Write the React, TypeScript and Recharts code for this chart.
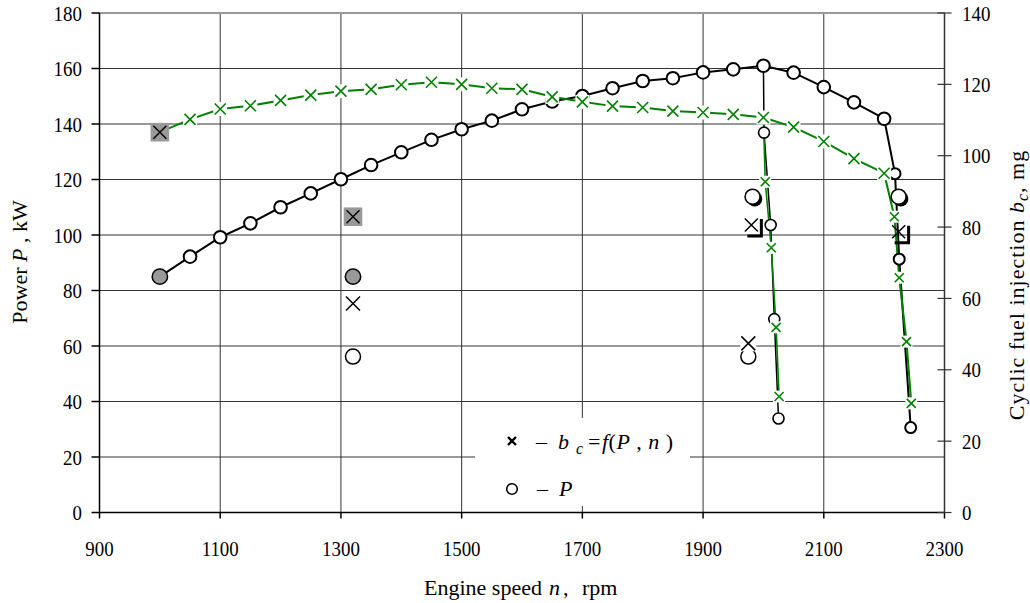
import React from 'react'
import {
  ComposedChart,
  Line,
  Scatter,
  XAxis,
  YAxis,
  CartesianGrid,
  ReferenceLine,
} from 'recharts'

const rpmTicks = [900, 1100, 1300, 1500, 1700, 1900, 2100, 2300]
const powerTicks = [0, 20, 40, 60, 80, 100, 120, 140, 160, 180]
const fuelTicks = [0, 20, 40, 60, 80, 100, 120, 140]

// full-load power curve, kW (left axis)
const powerRpm = [
  1000, 1050, 1100, 1150, 1200, 1250, 1300, 1350, 1400, 1450, 1500, 1550, 1600, 1650,
  1700, 1750, 1800, 1850, 1900, 1950, 2000, 2050, 2100, 2150, 2200, 2218, 2225, 2244,
]
const powerKw = [
  85, 92.2, 99.2, 104.2, 110, 115, 120.1, 125.2, 129.8, 134.3, 138.1, 141.2, 145.3, 148.1,
  150.1, 152.9, 155.5, 156.5, 158.6, 159.7, 161, 158.5, 153.3, 147.8, 141.9, 122.1, 91.3, 30.6,
]

// governor branch starting at 2000 rpm
const powerGovRpm = [2000, 2001, 2012, 2018, 2025]
const powerGovKw = [161, 136.9, 103.6, 69.7, 33.9]

// cyclic fuel injection, mg (right axis)
const fuelRpm = [
  1000, 1050, 1100, 1150, 1200, 1250, 1300, 1350, 1400, 1450, 1500, 1550, 1600, 1650,
  1700, 1750, 1800, 1850, 1900, 1950, 2000, 2050, 2100, 2150, 2200, 2217, 2225, 2237, 2245,
]
const fuelMg = [
  106.6, 110.2, 113.1, 114.0, 115.5, 117.0, 118.1, 118.6, 119.9, 120.6, 120.0, 118.9, 118.6,
  116.5, 115.1, 113.9, 113.5, 112.5, 112.1, 111.6, 110.7, 108.0, 104.0, 99.2, 95.1, 82.9,
  65.8, 47.9, 30.6,
]

const fuelGovRpm = [2000, 2003, 2013, 2021, 2026]
const fuelGovMg = [110.7, 92.7, 74.2, 51.9, 32.5]

// single measured points
const greyPowerRpm = [1320]
const greyPowerKw = [85]
const greyFuelRpm = [1320]
const greyFuelMg = [82.9]
const crossRpm = [1320, 1975]
const crossMg = [58.6, 47.4]
const ringRpm = [1320, 1975]
const ringKw = [56.2, 56.2]
const boldRpm = [1982, 2224]
const boldKw = [113.8, 113.8]
const boxedRpm = [1980, 2224]
const boxedMg = [80.6, 78.7]

const zip = (xs: number[], ys: number[]) => xs.map((n, i) => ({ n, v: ys[i] }))

const FONT = '"Liberation Serif", "Times New Roman", serif'
const GREEN = '#008000'
const GREY = '#999'

function OpenCircle({ cx, cy, r = 6.3, w = 2, fill = '#fff' }: any) {
  return <circle cx={cx} cy={cy} r={r} fill={fill} stroke="#000" strokeWidth={w} />
}

function GreenCross({ cx, cy, a = 5.5, halo = 7, w = 1.6 }: any) {
  return (
    <g>
      <rect x={cx - halo} y={cy - halo} width={halo * 2} height={halo * 2} fill="#fff" />
      <path
        d={`M${cx - a},${cy - a}L${cx + a},${cy + a}M${cx - a},${cy + a}L${cx + a},${cy - a}`}
        stroke={GREEN}
        strokeWidth={w}
      />
    </g>
  )
}

function BlackCross({ cx, cy, a = 7, w = 1.5, halo = 0 }: any) {
  return (
    <g>
      {halo > 0 && (
        <rect x={cx - halo} y={cy - halo} width={halo * 2} height={halo * 2} fill="#fff" />
      )}
      <path
        d={`M${cx - a},${cy - a}L${cx + a},${cy + a}M${cx - a},${cy + a}L${cx + a},${cy - a}`}
        stroke="#000"
        strokeWidth={w}
      />
    </g>
  )
}

function GreySquare({ cx, cy }: any) {
  return (
    <g>
      <rect x={cx - 9.3} y={cy - 9.3} width={18.6} height={18.6} fill={GREY} />
      <BlackCross cx={cx} cy={cy} a={6.5} w={1.4} />
    </g>
  )
}

function BoldCircle({ cx, cy }: any) {
  return (
    <g>
      <circle cx={cx + 2.2} cy={cy + 2.2} r={7.5} fill="#000" />
      <circle cx={cx} cy={cy} r={7.5} fill="#fff" stroke="#000" strokeWidth={1.5} />
    </g>
  )
}

function BoxedCross({ cx, cy }: any) {
  return (
    <g>
      <path
        d={`M${cx + 10},${cy - 6}V${cy + 11}H${cx - 4}`}
        fill="none"
        stroke="#000"
        strokeWidth={3}
      />
      <BlackCross cx={cx} cy={cy} a={6.5} w={1.5} />
    </g>
  )
}

function AxisText({ x, y, value, anchor, dy }: any) {
  return (
    <text
      transform={`translate(${x},${y}) scale(0.88,1)`}
      textAnchor={anchor}
      dy={dy}
      fontFamily={FONT}
      fontSize={21.5}
      fill="#000"
    >
      {value}
    </text>
  )
}

function LeftTick({ x, y, payload }: any) {
  return <AxisText x={x} y={y} value={payload.value} anchor="end" dy="0.35em" />
}

function BottomTick({ x, y, payload }: any) {
  return <AxisText x={x} y={y} value={payload.value} anchor="middle" dy="0.71em" />
}

function RightTick({ x, y, payload }: any) {
  const ax = x - 17.5
  return (
    <g>
      <line x1={ax - 7} x2={ax + 7} y1={y} y2={y} stroke="#333" strokeWidth={1.2} />
      <AxisText x={x} y={y} value={payload.value} anchor="start" dy="0.35em" />
    </g>
  )
}

function Overlay() {
  return (
    <svg
      width={1030}
      height={603}
      style={{ position: 'absolute', left: 0, top: 0, pointerEvents: 'none' }}
      fontFamily={FONT}
      fill="#000"
    >
      {/* legend */}
      <rect x={475} y={418} width={215} height={88} fill="#fff" />
      <path d="M508,437L516,445M508,445L516,437" stroke="#000" strokeWidth={2.4} />
      <text x={536} y={449} fontSize={22}>–</text>
      <text x={558} y={449} fontSize={22} fontStyle="italic">b</text>
      <text x={576} y={454} fontSize={16} fontStyle="italic">c</text>
      <text x={588} y={449} fontSize={22}>=</text>
      <text x={602} y={449} fontSize={22} textLength={71} lengthAdjust="spacing">
        <tspan fontStyle="italic">f</tspan>(<tspan fontStyle="italic">P</tspan> ,{' '}
        <tspan fontStyle="italic">n</tspan> )
      </text>
      <circle cx={512} cy={489} r={5.3} fill="#fff" stroke="#000" strokeWidth={1.6} />
      <text x={537} y={496} fontSize={22}>–</text>
      <text x={559} y={496} fontSize={22} fontStyle="italic">P</text>

      {/* axis titles */}
      <text transform="translate(27,262) rotate(-90)" textAnchor="middle" fontSize={22}>
        Power <tspan fontStyle="italic">P</tspan> ,  kW
      </text>
      <g fontSize={22}>
        <text x={424} y={595}>Engine speed</text>
        <text x={549} y={595} fontStyle="italic">n</text>
        <text x={563} y={595}>,</text>
        <text x={582} y={595}>rpm</text>
      </g>
      <text
        transform="translate(1024,285) rotate(-90)"
        textAnchor="middle"
        fontSize={22}
        letterSpacing={1}
      >
        Cyclic fuel injection <tspan fontStyle="italic">b</tspan>
        <tspan fontStyle="italic" fontSize={16} dy={4}>c</tspan>
        <tspan dy={-4}>, mg</tspan>
      </text>
    </svg>
  )
}

export default function App() {
  return (
    <div style={{ position: 'absolute', left: 0, top: 0, width: 1030, height: 603, background: '#fff' }}>
      <ComposedChart
        width={1030}
        height={603}
        margin={{ top: 13, right: 25.5, bottom: 60.5, left: 39.5 }}
      >
        <CartesianGrid yAxisId="P" stroke="#333" strokeWidth={1} />
        <XAxis
          type="number"
          dataKey="n"
          domain={[900, 2300]}
          ticks={rpmTicks}
          interval={0}
          height={30}
          tickSize={6}
          tickMargin={22.7}
          stroke="#000"
          strokeWidth={1.5}
          tick={(p: any) => <BottomTick {...p} />}
        />
        <YAxis
          yAxisId="P"
          domain={[0, 180]}
          ticks={powerTicks}
          interval={0}
          width={60}
          tickSize={8}
          tickMargin={9.5}
          stroke="#000"
          strokeWidth={1.5}
          tick={(p: any) => <LeftTick {...p} />}
        />
        <YAxis
          yAxisId="bc"
          orientation="right"
          domain={[0, 140]}
          ticks={fuelTicks}
          interval={0}
          width={60}
          tickLine={false}
          tickSize={7}
          tickMargin={10.5}
          stroke="#333"
          strokeWidth={1.5}
          tick={(p: any) => <RightTick {...p} />}
        />
        <ReferenceLine yAxisId="P" y={180} stroke="#999" strokeWidth={2} />

        <Line
          yAxisId="P"
          data={zip(powerRpm, powerKw)}
          dataKey="v"
          type="linear"
          stroke="#000"
          strokeWidth={2}
          isAnimationActive={false}
          dot={(p: any) => (
            <OpenCircle
              key={p.index}
              cx={p.cx}
              cy={p.cy}
              r={p.index === 0 ? 7.7 : p.index > 24 ? 5.5 : 6.3}
              w={p.index === 0 ? 1.5 : 2}
              fill={p.index === 0 ? GREY : '#fff'}
            />
          )}
        />
        <Line
          yAxisId="P"
          data={zip(powerGovRpm, powerGovKw)}
          dataKey="v"
          type="linear"
          stroke="#000"
          strokeWidth={1.5}
          isAnimationActive={false}
          dot={(p: any) =>
            p.index === 0 ? (
              <g key={p.index} />
            ) : (
              <OpenCircle key={p.index} cx={p.cx} cy={p.cy} r={5.5} w={1.6} />
            )
          }
        />
        <Line
          yAxisId="bc"
          data={zip(fuelRpm, fuelMg)}
          dataKey="v"
          type="linear"
          stroke={GREEN}
          strokeWidth={2}
          isAnimationActive={false}
          dot={(p: any) =>
            p.index === 0 ? (
              <GreySquare key={p.index} cx={p.cx} cy={p.cy} />
            ) : (
              <GreenCross
                key={p.index}
                cx={p.cx}
                cy={p.cy}
                a={p.index > 24 ? 4.5 : 5.5}
                halo={p.index > 24 ? 6 : 7}
              />
            )
          }
        />
        <Line
          yAxisId="bc"
          data={zip(fuelGovRpm, fuelGovMg)}
          dataKey="v"
          type="linear"
          stroke={GREEN}
          strokeWidth={1.6}
          isAnimationActive={false}
          dot={(p: any) =>
            p.index === 0 ? (
              <g key={p.index} />
            ) : (
              <GreenCross key={p.index} cx={p.cx} cy={p.cy} a={4.5} halo={6} />
            )
          }
        />

        <Scatter
          yAxisId="P"
          data={zip(ringRpm, ringKw)}
          dataKey="v"
          isAnimationActive={false}
          shape={(p: any) => <OpenCircle cx={p.cx} cy={p.cy} r={7.5} w={1.5} />}
        />
        <Scatter
          yAxisId="bc"
          data={zip(crossRpm, crossMg)}
          dataKey="v"
          isAnimationActive={false}
          shape={(p: any) => <BlackCross cx={p.cx} cy={p.cy} a={7} w={1.5} halo={8} />}
        />
        <Scatter
          yAxisId="P"
          data={zip(greyPowerRpm, greyPowerKw)}
          dataKey="v"
          isAnimationActive={false}
          shape={(p: any) => <OpenCircle cx={p.cx} cy={p.cy} r={7.7} w={1.5} fill={GREY} />}
        />
        <Scatter
          yAxisId="bc"
          data={zip(greyFuelRpm, greyFuelMg)}
          dataKey="v"
          isAnimationActive={false}
          shape={(p: any) => <GreySquare cx={p.cx} cy={p.cy} />}
        />
        <Scatter
          yAxisId="P"
          data={zip(boldRpm, boldKw)}
          dataKey="v"
          isAnimationActive={false}
          shape={(p: any) => <BoldCircle cx={p.cx} cy={p.cy} />}
        />
        <Scatter
          yAxisId="bc"
          data={zip(boxedRpm, boxedMg)}
          dataKey="v"
          isAnimationActive={false}
          shape={(p: any) => <BoxedCross cx={p.cx} cy={p.cy} />}
        />
      </ComposedChart>
      <Overlay />
    </div>
  )
}
